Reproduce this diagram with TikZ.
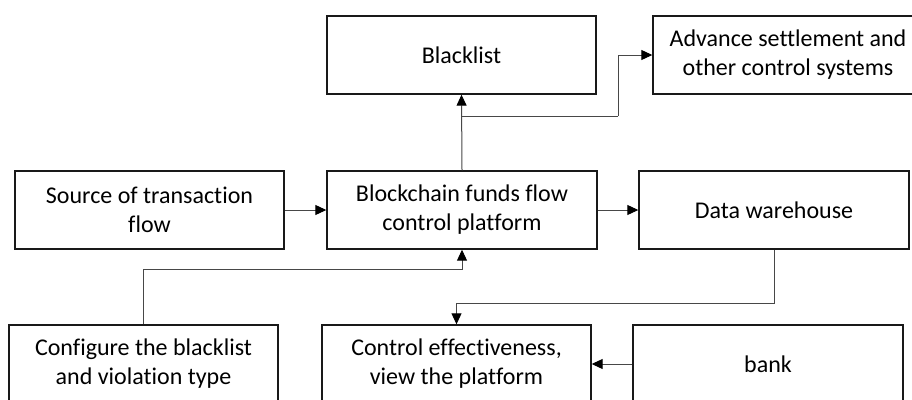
\documentclass[tikz,border=0pt]{standalone}
\usepackage{fontspec}
\setmainfont{Carlito}[Ligatures=CommonOff]
\usetikzlibrary{arrows.meta}
\begin{document}
\begin{tikzpicture}[x=1pt,y=-1pt,
  box/.style={draw=black!90,line width=1.4pt,rectangle,minimum width=269pt,
    minimum height=78pt,inner sep=0pt,align=center,
    font=\fontsize{24}{29}\selectfont},
  flow/.style={draw=black!72,line width=1pt,
    -{Triangle[length=11pt,width=10pt,black]}},
  line/.style={draw=black!72,line width=1pt}]
\useasboundingbox (0,0) rectangle (912,399);
\clip (0,0) rectangle (912,399);
\fill[white] (0,0) rectangle (912,399);

% top row
\node[box] (blacklist) at (461.5,55) {Blacklist};
\node[box,minimum width=270pt] (advance) at (788,55) {Advance settlement and\\other control systems};
% middle row
\node[box] (source) at (149.5,210) {Source of transaction\\flow};
\node[box,minimum width=270pt] (platform) at (462,210) {Blockchain funds flow\\control platform};
\node[box,minimum width=270pt] (warehouse) at (774,210) {Data warehouse};
% bottom row
\node[box] (config) at (143.5,364) {Configure the blacklist\\and violation type};
\node[box] (control) at (456.5,364) {Control effectiveness,\\view the platform};
\node[box,minimum width=270pt] (bank) at (768,364) {bank};

% connectors
\draw[flow] (source.east) -- (platform.west);
\draw[flow] (platform.east) -- (warehouse.west);
\draw[flow] (platform.north) -- (blacklist.south);
\coordinate (split) at (462,116);
\coordinate (jog) at (618,116);
\draw[line] (split) -- (jog);
\draw[flow] (jog) |- (advance.west);
\draw[flow] (config.north) -- ++(0,-55) -| (platform.south);
\draw[flow] (warehouse.south) -- ++(0,54) -| (control.north);
\draw[flow] (bank.west) -- (control.east);
\end{tikzpicture}
\end{document}
